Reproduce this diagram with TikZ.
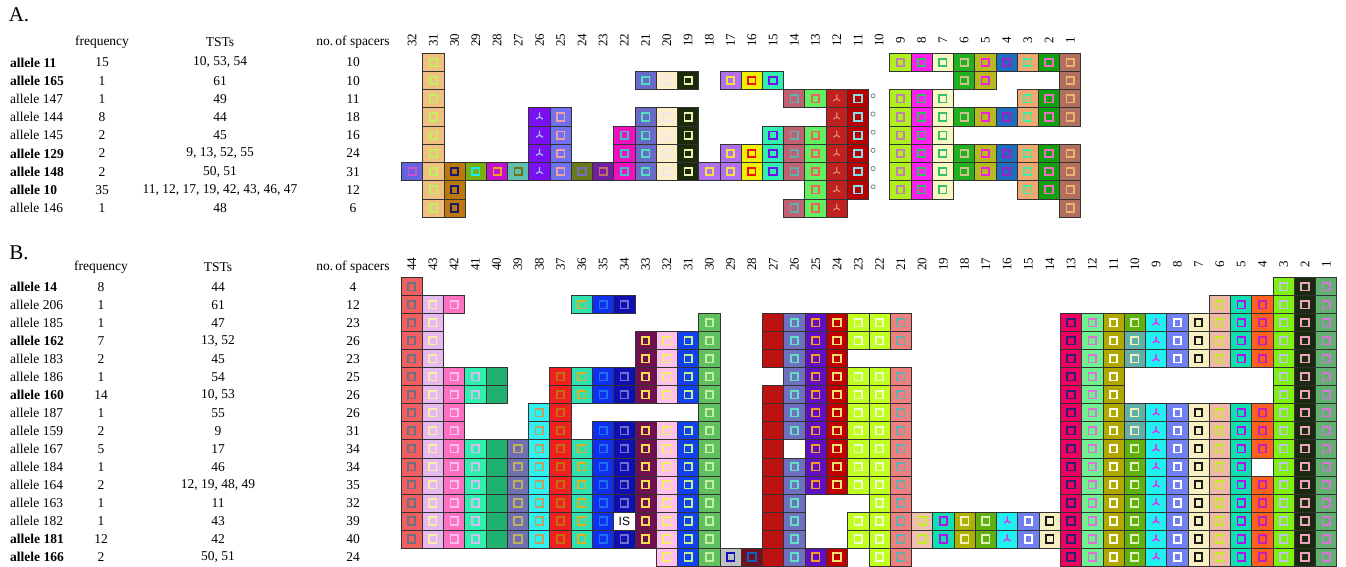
\documentclass[tikz,border=0pt]{standalone}
\usepackage{fontspec}
\setmainfont{Liberation Serif}
\setsansfont{Liberation Sans}

% one spacer cell: column, row, fill, mark colour
\newcommand{\spcbox}[4]{%
  \filldraw[spc, fill=#3] (#1,#2) rectangle ++(1,1);
  \draw[spcmark, draw=#4] ([shift={(-3.7pt,-3.7pt)}]#1+.5,#2+.5) rectangle ++(7.4pt,7.4pt);}
\newcommand{\spcstar}[4]{%
  \filldraw[spc, fill=#3] (#1,#2) rectangle ++(1,1);
  \draw[spcstarmark, draw=#4] (#1+.5,#2+.5) -- ++(90:4.5pt)
    (#1+.5,#2+.5) -- ++(210:4pt) (#1+.5,#2+.5) -- ++(330:4pt);}
\newcommand{\spcplain}[3]{%
  \filldraw[spc, fill=#3] (#1,#2) rectangle ++(1,1);}

\begin{document}
\begin{tikzpicture}[x=1pt, y=-1pt, font=\fontsize{13.5}{16}\selectfont,
    spc/.style={draw=celledge, line width=0.8pt},
    spcmark/.style={line width=1.7pt},
    spcstarmark/.style={line width=1.3pt},
    colnum/.style={rotate=90, inner sep=0pt, font=\fontsize{13}{13}\selectfont},
    panel/.style={font=\fontsize{21}{21}\selectfont, inner sep=0pt},
    ring/.style={draw=gray!80!black, line width=0.6pt}]
    % --- Colores ---
    \definecolor{celledge}{HTML}{333333}
    \definecolor{A32}{HTML}{6464E0} \definecolor{mA32}{HTML}{D050D0}
    \definecolor{A31}{HTML}{F0C080} \definecolor{mA31}{HTML}{C0F060}
    \definecolor{A30}{HTML}{BC780A} \definecolor{mA30}{HTML}{1A1A6A}
    \definecolor{A29}{HTML}{78B010} \definecolor{mA29}{HTML}{10F0F0}
    \definecolor{A28}{HTML}{C010D0} \definecolor{mA28}{HTML}{F0A020}
    \definecolor{A27}{HTML}{60C0B0} \definecolor{mA27}{HTML}{707010}
    \definecolor{A26}{HTML}{7A10F0} \definecolor{mA26}{HTML}{A0C0F0}
    \definecolor{A25}{HTML}{7070F0} \definecolor{mA25}{HTML}{F0A0A0}
    \definecolor{A24}{HTML}{6A7A1A} \definecolor{mA24}{HTML}{7070C0}
    \definecolor{A23}{HTML}{7020A0} \definecolor{mA23}{HTML}{C07060}
    \definecolor{A22}{HTML}{F010C0} \definecolor{mA22}{HTML}{40C0C0}
    \definecolor{A21}{HTML}{6A6AC8} \definecolor{mA21}{HTML}{50E0C0}
    \definecolor{A20}{HTML}{FFEFC8} \definecolor{mA20}{HTML}{F0E8F0}
    \definecolor{A19}{HTML}{1A2A0A} \definecolor{mA19}{HTML}{F0F0B0}
    \definecolor{A18}{HTML}{B070F0} \definecolor{mA18}{HTML}{F0E040}
    \definecolor{A17}{HTML}{B070F0} \definecolor{mA17}{HTML}{F0E040}
    \definecolor{A16}{HTML}{F0F000} \definecolor{mA16}{HTML}{F01010}
    \definecolor{A15}{HTML}{30F0B0} \definecolor{mA15}{HTML}{7010F0}
    \definecolor{A14}{HTML}{C06070} \definecolor{mA14}{HTML}{60B0B0}
    \definecolor{A13}{HTML}{60F060} \definecolor{mA13}{HTML}{F06060}
    \definecolor{A12}{HTML}{C02020} \definecolor{mA12}{HTML}{E08080}
    \definecolor{A11}{HTML}{B80000} \definecolor{mA11}{HTML}{80E0F0}
    \definecolor{A9}{HTML}{B0F020}  \definecolor{mA9}{HTML}{C080B0}
    \definecolor{A8}{HTML}{FF20F0}  \definecolor{mA8}{HTML}{30C060}
    \definecolor{A7}{HTML}{F8F8C0}  \definecolor{mA7}{HTML}{30C070}
    \definecolor{A6}{HTML}{20B020}  \definecolor{mA6}{HTML}{D0C090}
    \definecolor{A5}{HTML}{B8B820}  \definecolor{mA5}{HTML}{F020E0}
    \definecolor{A4}{HTML}{1E6EC0}  \definecolor{mA4}{HTML}{A020C0}
    \definecolor{A3}{HTML}{F0A870}  \definecolor{mA3}{HTML}{40F0A0}
    \definecolor{A2}{HTML}{10A010}  \definecolor{mA2}{HTML}{F070C0}
    \definecolor{A1}{HTML}{B07060}  \definecolor{mA1}{HTML}{F0B070}
    \definecolor{B44}{HTML}{F06060} \definecolor{mB44}{HTML}{707080}
    \definecolor{B43}{HTML}{E8B8F0} \definecolor{mB43}{HTML}{F8F0A0}
    \definecolor{B42}{HTML}{FF70C0} \definecolor{mB42}{HTML}{F0C0F0}
    \definecolor{B41}{HTML}{30F0B0} \definecolor{mB41}{HTML}{D0C0F0}
    \definecolor{B40}{HTML}{20B070}
    \definecolor{B39}{HTML}{7070B0} \definecolor{mB39}{HTML}{C0B060}
    \definecolor{B38}{HTML}{30F0F0} \definecolor{mB38}{HTML}{C0A060}
    \definecolor{B37}{HTML}{F02020} \definecolor{mB37}{HTML}{C07010}
    \definecolor{B36}{HTML}{30E0B0} \definecolor{mB36}{HTML}{E0B020}
    \definecolor{B35}{HTML}{1030F0} \definecolor{mB35}{HTML}{2070F0}
    \definecolor{B34}{HTML}{1010B0} \definecolor{mB34}{HTML}{7070D0}
    \definecolor{B33}{HTML}{701050} \definecolor{mB33}{HTML}{F0E050}
    \definecolor{B32}{HTML}{FFC0F0} \definecolor{mB32}{HTML}{F0F060}
    \definecolor{B31}{HTML}{1040F0} \definecolor{mB31}{HTML}{C0F090}
    \definecolor{B30}{HTML}{60C060} \definecolor{mB30}{HTML}{C0F0A0}
    \definecolor{B29}{HTML}{C0C0C0} \definecolor{mB29}{HTML}{1010C0}
    \definecolor{B28}{HTML}{701020} \definecolor{mB28}{HTML}{1060C0}
    \definecolor{B27}{HTML}{C01010} \definecolor{mB27}{HTML}{B01818}
    \definecolor{B26}{HTML}{7070C0} \definecolor{mB26}{HTML}{60E0C0}
    \definecolor{B25}{HTML}{6010C0} \definecolor{mB25}{HTML}{F0A020}
    \definecolor{B24}{HTML}{C00000} \definecolor{mB24}{HTML}{F0E070}
    \definecolor{B23}{HTML}{C0FF20} \definecolor{mB23}{HTML}{F0FFD0}
    \definecolor{B22}{HTML}{C0FF20} \definecolor{mB22}{HTML}{F0FFD0}
    \definecolor{B21}{HTML}{F08080} \definecolor{mB21}{HTML}{60B0B0}
    \definecolor{B20}{HTML}{F0C0B0} \definecolor{mB20}{HTML}{C0F020}
    \definecolor{B19}{HTML}{10E0B0} \definecolor{mB19}{HTML}{B010F0}
    \definecolor{B18}{HTML}{B0B000} \definecolor{mB18}{HTML}{F0F0C0}
    \definecolor{B17}{HTML}{60B010} \definecolor{mB17}{HTML}{E0F0C0}
    \definecolor{B16}{HTML}{20F0F0} \definecolor{mB16}{HTML}{F020F0}
    \definecolor{B15}{HTML}{7080F0} \definecolor{mB15}{HTML}{FFFFFF}
    \definecolor{B14}{HTML}{F8F0C0} \definecolor{mB14}{HTML}{1A1A1A}
    \definecolor{B13}{HTML}{F00060} \definecolor{mB13}{HTML}{302070}
    \definecolor{B12}{HTML}{70F090} \definecolor{mB12}{HTML}{E070E0}
    \definecolor{B11}{HTML}{B0A800} \definecolor{mB11}{HTML}{FFFFF0}
    \definecolor{B10}{HTML}{60B010} \definecolor{mB10}{HTML}{E0F0C0}
    \definecolor{B10t}{HTML}{60B0A8}\definecolor{mB10t}{HTML}{F0F0C0}
    \definecolor{B9}{HTML}{20F0F0}  \definecolor{mB9}{HTML}{F020F0}
    \definecolor{B8}{HTML}{7080F0}  \definecolor{mB8}{HTML}{FFFFFF}
    \definecolor{B7}{HTML}{F8F0C0}  \definecolor{mB7}{HTML}{1A1A1A}
    \definecolor{B6}{HTML}{F0B8A8}  \definecolor{mB6}{HTML}{C0F020}
    \definecolor{B5}{HTML}{10E0B0}  \definecolor{mB5}{HTML}{B010F0}
    \definecolor{B4}{HTML}{FF6020}  \definecolor{mB4}{HTML}{C020C0}
    \definecolor{B3}{HTML}{80F010}  \definecolor{mB3}{HTML}{C0C0F0}
    \definecolor{B2}{HTML}{1A2A10}  \definecolor{mB2}{HTML}{F0A0C0}
    \definecolor{B1}{HTML}{60B070}  \definecolor{mB1}{HTML}{E070E0}

    \useasboundingbox (0,0) rectangle (1346,567);

    % --- Panel A: encabezados y tabla ---
    \node[panel] (pA) at (19,15) {A.};
    \node (hfA) at (102,42) {frequency};
    \node (htA) at (220,42) {TSTs};
    \node (hnA) at (353,42) {no.\,of spacers};
    \foreach \r/\lab/\fq/\ts/\ns in {0/\textbf{allele 11}/15/{10, 53, 54}/10,
        1/\textbf{allele 165}/1/61/10, 2/allele 147/1/49/11, 3/allele 144/8/44/18,
        4/allele 145/2/45/16, 5/\textbf{allele 129}/2/{9, 13, 52, 55}/24,
        6/\textbf{allele 148}/2/{50, 51}/31,
        7/\textbf{allele 10}/35/{11, 12, 17, 19, 42, 43, 46, 47}/12,
        8/allele 146/1/48/6} {
        \node[anchor=west, inner sep=0pt] (la\r) at (10,{62.4+18.2*\r}) {\lab};
        \node (fa\r) at (102,{62.4+18.2*\r}) {\fq};
        \node (ta\r) at (220,{62.4+18.2*\r}) {\ts};
        \node (na\r) at (353,{62.4+18.2*\r}) {\ns};
    }

    % --- Panel A: espaciadores (columna 32 a 1) ---
    \begin{scope}[shift={(1102.1,53.3)}, x=-21.23pt, y=-18.2pt]
        \foreach \c in {1,...,32} {
            \node[colnum] (ca\c) at (\c+.5,-.73) {\c};
        }
        \foreach \c/\rows in {32/{6}, 31/{0,1,2,3,4,5,6,7,8}, 30/{6,7,8}, 29/{6},
            28/{6}, 27/{6}, 25/{3,4,5,6}, 24/{6}, 23/{6}, 22/{4,5,6},
            21/{1,3,4,5,6}, 20/{1,3,4,5,6}, 19/{1,3,4,5,6}, 18/{6},
            17/{1,5,6}, 16/{1,5,6}, 15/{1,4,5,6}, 14/{2,4,5,6,8},
            13/{2,4,5,6,7,8}, 11/{2,3,4,5,6,7},
            9/{0,2,3,4,5,6,7}, 8/{0,2,3,4,5,6,7}, 7/{0,2,3,4,5,6,7},
            6/{0,1,3,5,6}, 5/{0,1,3,5,6}, 4/{0,3,5,6},
            3/{0,2,3,5,6,7}, 2/{0,2,3,5,6,7}, 1/{0,1,2,3,5,6,7,8}} {
            \foreach \r in \rows {
                \spcbox{\c}{\r}{A\c}{mA\c}
            }
        }
        % --- marcas de tres puntas ---
        \foreach \c/\rows in {26/{3,4,5,6}, 12/{2,3,4,5,6,7,8}} {
            \foreach \r in \rows {
                \spcstar{\c}{\r}{A\c}{mA\c}
            }
        }
        % --- circulos junto a la columna 10 ---
        \foreach \r in {2,...,7} {
            \draw[ring] ([shift={(4.5pt,3pt)}]11,\r+.5) circle (2.1pt);
        }
    \end{scope}

    % --- Panel B: encabezados y tabla ---
    \node[panel] (pB) at (19,253) {B.};
    \node (hfB) at (101,267) {frequency};
    \node (htB) at (218,267) {TSTs};
    \node (hnB) at (353,267) {no.\,of spacers};
    \foreach \r/\lab/\fq/\ts/\ns in {0/\textbf{allele 14}/8/44/4,
        1/allele 206/1/61/12, 2/allele 185/1/47/23,
        3/\textbf{allele 162}/7/{13, 52}/26, 4/allele 183/2/45/23,
        5/allele 186/1/54/25, 6/\textbf{allele 160}/14/{10, 53}/26,
        7/allele 187/1/55/26, 8/allele 159/2/9/31, 9/allele 167/5/17/34,
        10/allele 184/1/46/34, 11/allele 164/2/{12, 19, 48, 49}/35,
        12/allele 163/1/11/32, 13/allele 182/1/43/39,
        14/\textbf{allele 181}/12/42/40, 15/\textbf{allele 166}/2/{50, 51}/24} {
        \node[anchor=west, inner sep=0pt] (lb\r) at (10,{286.7+18.02*\r}) {\lab};
        \node (fb\r) at (101,{286.7+18.02*\r}) {\fq};
        \node (tb\r) at (218,{286.7+18.02*\r}) {\ts};
        \node (nb\r) at (353,{286.7+18.02*\r}) {\ns};
    }

    % --- Panel B: espaciadores (columna 44 a 1) ---
    \begin{scope}[shift={(1358.15,277.7)}, x=-21.27pt, y=-18.02pt]
        \foreach \c in {1,...,44} {
            \node[colnum] (cb\c) at (\c+.5,-.76) {\c};
        }
        \foreach \c/\rows in {44/{0,1,2,3,4,5,6,7,8,9,10,11,12,13,14},
            43/{1,2,3,4,5,6,7,8,9,10,11,12,13,14},
            42/{1,5,6,7,8,9,10,11,12,13,14}, 41/{5,6,9,10,11,12,13,14},
            39/{9,10,11,12,13,14}, 38/{7,8,9,10,11,12,13,14},
            37/{5,6,7,8,9,10,11,12,13,14}, 36/{1,5,6,9,10,11,12,13,14},
            35/{1,5,6,8,9,10,11,12,13,14}, 34/{1,5,6,8,9,10,11,12,14},
            33/{3,4,5,6,8,9,10,11,12,13,14}, 32/{3,4,5,6,8,9,10,11,12,13,14,15},
            31/{3,4,5,6,8,9,10,11,12,13,14,15},
            30/{2,3,4,5,6,7,8,9,10,11,12,13,14,15}, 29/{15}, 28/{15},
            27/{2,3,4,6,7,8,9,10,11,12,13,14,15},
            26/{2,3,4,5,6,7,8,10,11,12,13,14,15},
            25/{2,3,4,5,6,7,8,9,10,11,15}, 24/{2,3,4,5,6,7,8,9,10,11,15},
            23/{2,3,5,6,7,8,9,10,11,13,14}, 22/{2,3,5,6,7,8,9,10,11,12,13,14,15},
            21/{2,3,5,6,7,8,9,10,11,12,13,14,15},
            20/{13,14}, 19/{13,14}, 18/{13,14}, 17/{13,14}, 15/{13,14}, 14/{13,14},
            13/{2,3,4,5,6,7,8,9,10,11,12,13,14,15},
            12/{2,3,4,5,6,7,8,9,10,11,12,13,14,15},
            11/{2,3,4,5,6,7,8,9,10,11,12,13,14,15},
            10/{2,9,10,11,12,13,14,15},
            8/{2,3,4,7,8,9,10,11,12,13,14,15}, 7/{2,3,4,7,8,9,10,11,12,13,14,15},
            6/{1,2,3,4,7,8,9,10,11,12,13,14,15}, 5/{1,2,3,4,7,8,9,10,11,12,13,14,15},
            4/{1,2,3,4,7,8,9,11,12,13,14,15},
            3/{0,1,2,3,4,5,6,7,8,9,10,11,12,13,14,15},
            2/{0,1,2,3,4,5,6,7,8,9,10,11,12,13,14,15},
            1/{0,1,2,3,4,5,6,7,8,9,10,11,12,13,14,15}} {
            \foreach \r in \rows {
                \spcbox{\c}{\r}{B\c}{mB\c}
            }
        }
        % --- columna 10, variante azul verdosa ---
        \foreach \r in {3,4,7,8} {
            \spcbox{10}{\r}{B10t}{mB10t}
        }
        % --- columna 40 sin marca ---
        \foreach \r in {5,6,9,10,11,12,13,14} {
            \spcplain{40}{\r}{B40}
        }
        % --- marcas de tres puntas ---
        \foreach \c/\rows in {16/{13,14}, 9/{2,3,4,7,8,9,10,11,12,13,14,15}} {
            \foreach \r in \rows {
                \spcstar{\c}{\r}{B\c}{mB\c}
            }
        }
        % --- huecos en blanco e insercion IS ---
        \spcplain{26}{9}{white}
        \spcplain{4}{10}{white}
        \spcplain{34}{13}{white}
        \node[font=\sffamily\fontsize{12}{12}\selectfont, inner sep=0pt] (is) at (34.5,13.5) {IS};
    \end{scope}
\end{tikzpicture}
\end{document}
